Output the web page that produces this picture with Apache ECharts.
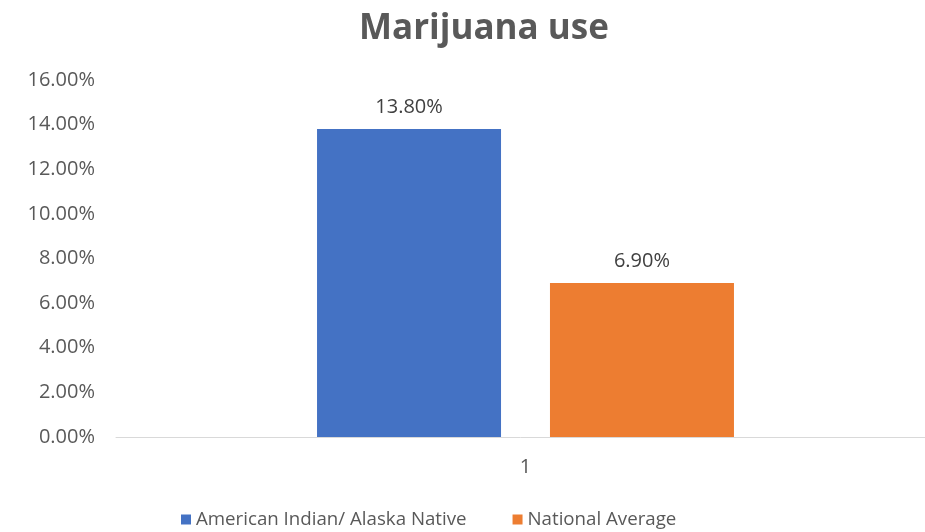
<!DOCTYPE html>
<html><head><meta charset="utf-8">
<script src="https://cdn.jsdelivr.net/npm/echarts@6/dist/echarts.min.js"></script>
<style>html,body{margin:0;padding:0;background:#fff}#c{width:925px;height:532px}</style>
</head><body><div id="c"></div>
<script>
const categories = ['1'];
const seriesNames = ['American Indian/ Alaska Native', 'National Average'];
const aianValues = [0.138];
const nationalValues = [0.069];
const yTicks = [0, 0.16, 0.02];
const colors = ['#4472C4', '#ED7D31'];
const FONT = 'Open Sans';
const pct = v => (v * 100).toFixed(2) + '%';
const chart = echarts.init(document.getElementById('c'), null, {renderer: 'canvas'});
const lbl = {show: true, position: 'top', distance: 12, formatter: p => pct(p.value),
  fontFamily: FONT, fontSize: 20, color: '#404040'};
chart.setOption({
  animation: false,
  title: {text: 'Marijuana use', left: 479, textAlign: 'center', top: 7,
    textStyle: {fontFamily: FONT, fontSize: 35, fontWeight: 'bold', color: '#595959'}},
  legend: {bottom: -2, left: 176, itemWidth: 10, itemHeight: 10, itemGap: 46, icon: 'rect',
    textStyle: {fontFamily: FONT, fontSize: 18.7, color: '#595959'}},
  grid: [
    {left: 116, right: 0, top: 80, bottom: 95},
    {left: 126, right: 0, top: 80, bottom: 95}
  ],
  xAxis: [
    {gridIndex: 0, type: 'category', data: categories,
      axisLine: {lineStyle: {color: '#d9d9d9'}}, axisTick: {show: false}, axisLabel: {show: false}},
    {gridIndex: 1, type: 'category', data: categories,
      axisLine: {show: false}, axisTick: {show: false},
      axisLabel: {fontFamily: FONT, fontSize: 20, color: '#595959', margin: 20}}
  ],
  yAxis: [
    {gridIndex: 0, type: 'value', min: yTicks[0], max: yTicks[1], interval: yTicks[2],
      splitLine: {show: false}, axisLine: {show: false}, axisTick: {show: false},
      axisLabel: {fontFamily: FONT, fontSize: 20, color: '#595959', margin: 21, formatter: pct}},
    {gridIndex: 1, type: 'value', min: yTicks[0], max: yTicks[1], interval: yTicks[2], show: false}
  ],
  series: [
    {name: seriesNames[0], type: 'bar', xAxisIndex: 1, yAxisIndex: 1, data: aianValues,
      barWidth: 184, barGap: '26.6%', itemStyle: {color: colors[0]}, label: lbl},
    {name: seriesNames[1], type: 'bar', xAxisIndex: 1, yAxisIndex: 1, data: nationalValues,
      barWidth: 184, itemStyle: {color: colors[1]}, label: lbl}
  ]
});
</script></body></html>
